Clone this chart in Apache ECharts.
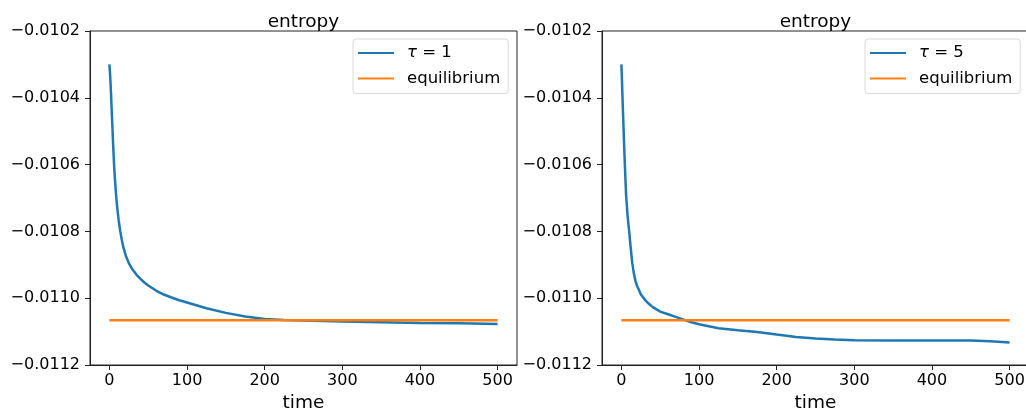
<!DOCTYPE html>
<html>
<head>
<meta charset="utf-8">
<script src="https://cdn.jsdelivr.net/npm/echarts@6/dist/echarts.min.js"></script>
<style>
  html, body { margin: 0; padding: 0; background: #fff; }
  #chart { width: 1026px; height: 412px; }
</style>
</head>
<body>
<div id="chart"></div>
<script>
// ---- data ----
const tau1Time = [0, 1, 2, 3, 4, 5, 6, 7, 8, 9, 10, 12, 14, 16, 18, 21, 25, 30, 35, 40, 45, 50, 60, 70, 80, 90, 100, 125, 150, 175, 200, 225, 250, 300, 350, 400, 450, 500];
const tau1Values = [-0.010300, -0.010335, -0.010383, -0.010440, -0.010495, -0.010550, -0.010600, -0.010640, -0.010672, -0.010702, -0.010728, -0.010768, -0.010800, -0.010826, -0.010848, -0.010872, -0.010895, -0.010915, -0.010930, -0.010942, -0.010953, -0.010962, -0.010977, -0.010989, -0.010998, -0.011006, -0.011013, -0.011030, -0.011044, -0.011055, -0.011062, -0.011065, -0.011067, -0.011070, -0.011072, -0.011074, -0.011075, -0.011077];

const tau5Time = [0, 2, 4, 6, 8, 10, 12, 14, 16, 18, 20, 25, 30, 35, 40, 50, 60, 70, 80, 90, 100, 125, 150, 175, 200, 225, 250, 275, 300, 350, 400, 450, 475, 500];
const tau5Values = [-0.010300, -0.010440, -0.010575, -0.010690, -0.010755, -0.010800, -0.010850, -0.010895, -0.010925, -0.010948, -0.010962, -0.010988, -0.011004, -0.011016, -0.011026, -0.011040, -0.011048, -0.011056, -0.011064, -0.011072, -0.011078, -0.011090, -0.011096, -0.011101, -0.011109, -0.011116, -0.011121, -0.011124, -0.011126, -0.011127, -0.011127, -0.011127, -0.011129, -0.011133];

const eqTime = [0, 500];
const eqValue = -0.011066;

const xTicks = [0, 100, 200, 300, 400, 500];
const yMin = -0.0112, yMax = -0.0102, yStep = 0.0002;

const panelTitles = ['entropy', 'entropy'];
const seriesNames = ['τ = 1', 'τ = 5'];
const eqName = 'equilibrium';
const xName = 'time';

// ---- build chart ----
const FONT = 'DejaVu Sans';
const BLUE = '#1f77b4', ORANGE = '#ff7f0e';
const grids = [
  { left: 90, top: 31, width: 427, height: 334 },
  { left: 602, top: 31, width: 427, height: 334 }
];

function zip(xs, ys) { return xs.map((x, i) => [x, ys[i]]); }

function yFmt(v) {
  const s = Math.abs(v).toFixed(4);
  return (v < 0 ? '\u2212' : '') + s;
}

const option = {
  animation: false,
  backgroundColor: '#fff',
  textStyle: { fontFamily: FONT },
  title: grids.map((g, i) => ({
    text: panelTitles[i],
    left: g.left + g.width / 2,
    top: 13,
    padding: 0,
    textAlign: 'center',
    textStyle: { fontFamily: FONT, fontSize: 18.5, fontWeight: 'normal', color: '#000' }
  })),
  legend: grids.map((g, i) => ({
    data: [seriesNames[i], eqName],
    orient: 'vertical',
    left: i === 0 ? 353 : 865,
    top: 39,
    icon: 'rect',
    itemWidth: 36,
    itemHeight: 2,
    itemGap: 7.6,
    padding: [5, 8, 6, 5],
    borderColor: '#d9d9d9',
    borderWidth: 1,
    borderRadius: 3,
    backgroundColor: 'rgba(255,255,255,0.8)',
    selectedMode: false,
    formatter: function (name) {
      return name.charAt(0) === 'τ' ? '{i|τ}' + name.slice(1) : name;
    },
    textStyle: {
      fontFamily: FONT, fontSize: 16.5, color: '#000', lineHeight: 18,
      padding: [0, 0, 0, 8],
      rich: { i: { fontFamily: FONT, fontSize: 16.5, fontStyle: 'italic', color: '#000', lineHeight: 18 } }
    }
  })),
  grid: grids.map(g => Object.assign({
    show: true, borderColor: '#222', borderWidth: 1, backgroundColor: 'transparent',
    containLabel: false, outerBoundsMode: 'none'
  }, g)),
  xAxis: grids.map((g, i) => ({
    type: 'value',
    gridIndex: i,
    min: -25, max: 525,
    name: xName,
    nameLocation: 'middle',
    nameGap: 29,
    nameTextStyle: { fontFamily: FONT, fontSize: 18.5, color: '#000' },
    axisLine: { show: true, onZero: false, lineStyle: { color: '#222', width: 1 } },
    axisTick: { show: true, length: 5, lineStyle: { color: '#222' }, customValues: xTicks },
    axisLabel: { fontFamily: FONT, fontSize: 16, color: '#000', margin: 8, customValues: xTicks },
    splitLine: { show: false }
  })),
  yAxis: grids.map((g, i) => ({
    type: 'value',
    gridIndex: i,
    min: yMin, max: yMax, interval: yStep,
    axisLine: { show: true, onZero: false, lineStyle: { color: '#222', width: 1 } },
    axisTick: { show: true, length: 5, lineStyle: { color: '#222' } },
    axisLabel: { fontFamily: FONT, fontSize: 16, color: '#000', margin: 10, formatter: yFmt },
    splitLine: { show: false }
  })),
  series: [
    {
      name: seriesNames[0], type: 'line', xAxisIndex: 0, yAxisIndex: 0,
      data: zip(tau1Time, tau1Values), symbol: 'none', smooth: false,
      lineStyle: { color: BLUE, width: 2.5 }, itemStyle: { color: BLUE }
    },
    {
      name: eqName, type: 'line', xAxisIndex: 0, yAxisIndex: 0,
      data: zip(eqTime, [eqValue, eqValue]), symbol: 'none',
      lineStyle: { color: ORANGE, width: 2.5 }, itemStyle: { color: ORANGE }
    },
    {
      name: seriesNames[1], type: 'line', xAxisIndex: 1, yAxisIndex: 1,
      data: zip(tau5Time, tau5Values), symbol: 'none', smooth: false,
      lineStyle: { color: BLUE, width: 2.5 }, itemStyle: { color: BLUE }
    },
    {
      name: eqName, type: 'line', xAxisIndex: 1, yAxisIndex: 1,
      data: zip(eqTime, [eqValue, eqValue]), symbol: 'none',
      lineStyle: { color: ORANGE, width: 2.5 }, itemStyle: { color: ORANGE }
    }
  ]
};

const chart = echarts.init(document.getElementById('chart'), null, { renderer: 'canvas' });
chart.setOption(option);
</script>
</body>
</html>
